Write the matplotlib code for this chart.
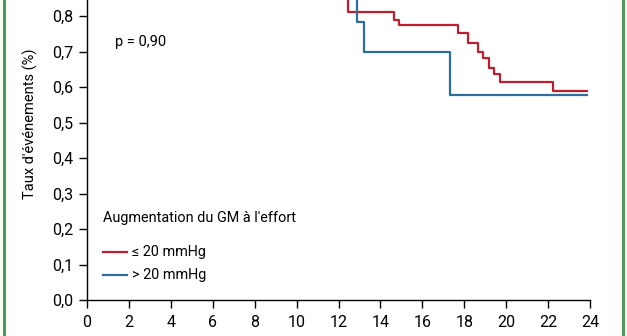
import matplotlib
matplotlib.use("Agg")
import matplotlib.pyplot as plt
from matplotlib.lines import Line2D

plt.rcParams['font.family'] = ['Roboto', 'DejaVu Sans']

# Data (Kaplan-Meier like step curves)
red_t = [0, 11.1, 12.45, 14.65, 14.9, 17.7, 18.2, 18.65, 18.9, 19.2, 19.4, 19.7, 22.25, 23.85]
red_v = [1.0, 0.848, 0.811, 0.789, 0.775, 0.752, 0.724, 0.699, 0.682, 0.654, 0.637, 0.614, 0.589, 0.589]
blue_t = [0, 12.9, 13.2, 17.3, 23.85]
blue_v = [1.0, 0.783, 0.699, 0.577, 0.577]
xticks = list(range(0, 25, 2))
yticks = [0.0, 0.1, 0.2, 0.3, 0.4, 0.5, 0.6, 0.7, 0.8]
ytick_labels = ["0,0", "0,1", "0,2", "0,3", "0,4", "0,5", "0,6", "0,7", "0,8"]
labels = ["≤ 20 mmHg", "> 20 mmHg"]

RED = "#bf1e2e"
BLUE = "#2f6e9b"
GREEN = "#4f9a52"

W, H = 627, 336
fig = plt.figure(figsize=(W/100, H/100), dpi=100)
ax = fig.add_axes([87/W, 36/H, (590-87)/W, 300/H])

ax.step(red_t, red_v, where='post', color=RED, lw=1.6)
ax.step(blue_t, blue_v, where='post', color=BLUE, lw=1.6)

ax.set_xlim(0, 24)
ax.set_ylim(0, 300/355)
ax.set_xticks(xticks)
ax.set_xticklabels([str(x) for x in xticks])
ax.set_yticks(yticks)
ax.set_yticklabels(ytick_labels)
ax.spines['top'].set_visible(False)
ax.spines['right'].set_visible(False)
for s in ['left', 'bottom']:
    ax.spines[s].set_linewidth(1.0)
ax.tick_params(axis='both', direction='out', length=6, width=1.0, labelsize=11.5, pad=5)
ax.tick_params(axis='y', pad=4)

fig.text(30/W, 1-124/H, "Taux d'événements (%)", rotation=90, ha='center', va='center', fontsize=10.5)
fig.text(115/W, 1-42/H, "p = 0,90", ha='left', va='center', fontsize=10.5)
fig.text(103/W, 1-218/H, "Augmentation du GM à l'effort", ha='left', va='center', fontsize=10.4)

for (lab, col, yp) in [(labels[0], RED, 252), (labels[1], BLUE, 275)]:
    fig.add_artist(Line2D([103/W, 127/W], [1-yp/H, 1-yp/H], color=col, lw=1.6, transform=fig.transFigure))
    fig.text(132/W, 1-yp/H, lab, ha='left', va='center', fontsize=10.4)

# green frame lines
fig.add_artist(Line2D([4/W, 4/W], [0, 1], color=GREEN, lw=2.2, transform=fig.transFigure))
fig.add_artist(Line2D([623/W, 623/W], [0, 1], color=GREEN, lw=2.2, transform=fig.transFigure))

fig.savefig("out.png", dpi=100)
